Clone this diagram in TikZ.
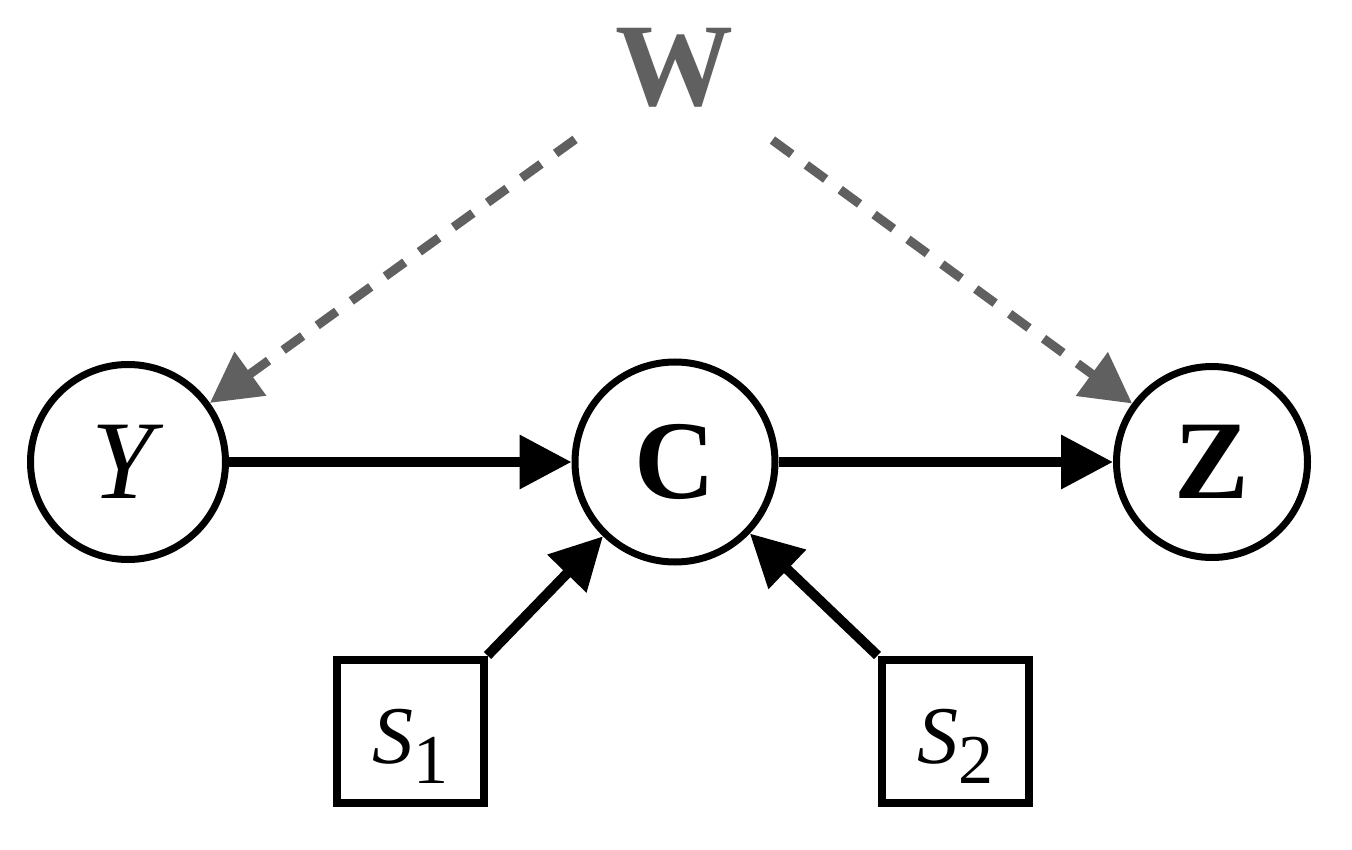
\documentclass[tikz,border=0pt]{standalone}
\usepackage{fontspec}
\setmainfont{Liberation Serif}
\usetikzlibrary{arrows.meta}
\definecolor{wgray}{RGB}{96,96,96}
\begin{document}
\begin{tikzpicture}[x=1pt,y=-1pt,
  circ/.style={circle,draw,line width=7pt,inner sep=0pt,font=\fontsize{112}{112}\selectfont},
  sbox/.style={rectangle,draw,line width=8pt,minimum width=147pt,minimum height=143pt,inner sep=0pt,font=\fontsize{82}{82}\selectfont},
  solidarr/.style={line width=10pt,-{Triangle[length=52pt,width=52pt]}},
  dasharr/.style={wgray,line width=9pt,dash pattern=on 24pt off 18pt,-{Triangle[length=50pt,width=52pt]}}]
\useasboundingbox (0,0) rectangle (1352,850);
\node[circ,minimum size=195pt] (y) at (128,462) {\textit{Y}};
\node[circ,minimum size=200pt] (c) at (675,462) {\textbf{C}};
\node[circ,minimum size=191pt] (z) at (1212,462) {\textbf{Z}};
\node[text=wgray,font=\bfseries\fontsize{118}{118}\selectfont] (w) at (674,68) {W};
\node[sbox] (s1) at (410,731) {\raisebox{-32pt}[0pt][0pt]{\textit{S}\raisebox{-20pt}{\fontsize{70}{70}\selectfont 1}}};
\node[sbox] (s2) at (955,731) {\raisebox{-32pt}[0pt][0pt]{\textit{S}\raisebox{-20pt}{\fontsize{70}{70}\selectfont 2}}};
\draw[solidarr] (y) -- (c);
\draw[solidarr] (c) -- (z);
\draw[solidarr] (s1.north east) -- (c);
\draw[solidarr] (s2.north west) -- (c);
\draw[dasharr,shorten <=122pt] (w.center) -- (y);
\draw[dasharr,shorten <=122pt] (w.center) -- (z);
\end{tikzpicture}
\end{document}
